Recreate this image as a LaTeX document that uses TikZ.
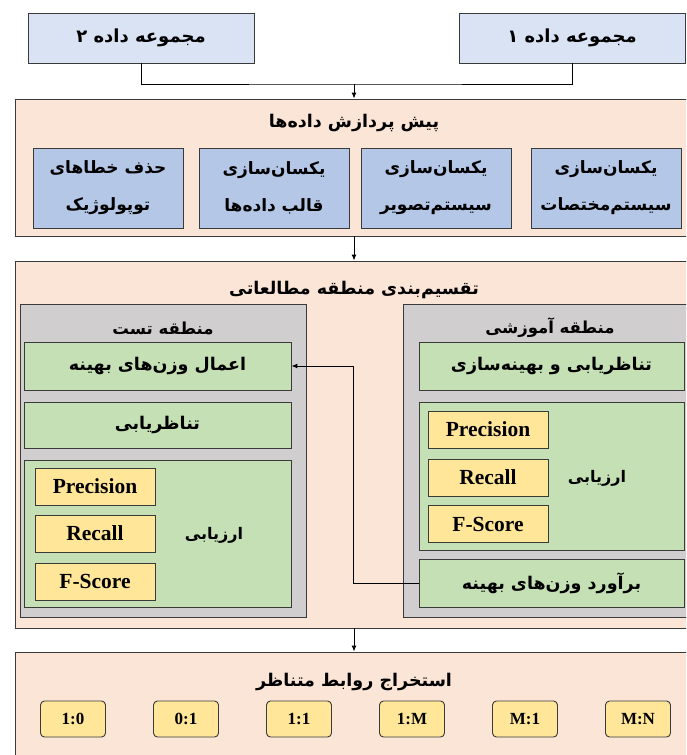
\documentclass[tikz,border=0pt]{standalone}
\usepackage{fontspec}
\setmainfont{Liberation Serif}
\newfontfamily\fafont[Script=Arabic]{DejaVu Sans}
\usetikzlibrary{arrows.meta}
\TeXXeTstate=1
\newcommand{\fa}[1]{\fafont\beginR #1\endR}

\definecolor{dsblue}{HTML}{DAE3F3}
\definecolor{peach}{HTML}{FBE5D6}
\definecolor{stepblue}{HTML}{B4C7E7}
\definecolor{zonegray}{HTML}{D0CECE}
\definecolor{taskgreen}{HTML}{C5E0B4}
\definecolor{metricyel}{HTML}{FFE699}
\definecolor{edgegray}{HTML}{3A3A3A}

\tikzset{
  box/.style={draw=edgegray, line width=0.9pt, inner sep=0pt, align=center},
  dsbox/.style={box, fill=dsblue, minimum width=226pt, minimum height=50pt,
    font=\fontsize{18}{21}\selectfont\bfseries},
  outer/.style={box, fill=peach, minimum width=678pt},
  stepbox/.style={box, fill=stepblue, minimum width=150pt, minimum height=80pt,
    font=\fontsize{17}{37}\selectfont\bfseries},
  zone/.style={box, fill=zonegray, minimum height=313pt},
  task/.style={box, fill=taskgreen, font=\fontsize{17.5}{20}\selectfont\bfseries},
  metric/.style={box, fill=metricyel, minimum width=120pt, minimum height=37pt,
    font=\fontsize{21.5}{24}\selectfont\bfseries},
  rel/.style={box, fill=metricyel, rounded corners=4pt, minimum width=65pt,
    minimum height=36pt, font=\fontsize{17}{20}\selectfont\bfseries},
  title/.style={inner sep=0pt, font=\fontsize{17.5}{20}\selectfont\bfseries},
  zonetitle/.style={inner sep=0pt, font=\fontsize{16.5}{19}\selectfont\bfseries},
  label/.style={inner sep=0pt, font=\fontsize{16}{19}\selectfont\bfseries},
  line/.style={draw=black, line width=1pt},
  arr/.style={line, -{Latex[length=6pt,width=5pt]}}
}

\begin{document}
\begin{tikzpicture}[x=1pt, y=-1pt]
  \useasboundingbox (0,0) rectangle (686,755);
  \clip (0,0) rectangle (686,755);
  \fill[white] (0,0) rectangle (686,755);

  % Data sets
  \node[dsbox] (ds2) at (141,38) {\fa{مجموعه داده ۲}};
  \node[dsbox] (ds1) at (572,38) {\fa{مجموعه داده ۱}};

  % Pre-processing
  \node[outer, minimum height=137pt] (pre) at (354,167.5) {};
  \node[title] (preT) at (354,123) {\fa{پیش پردازش داده^^^^200cها}};
  \node[stepbox] (s1) at (606,188) {\fa{یکسان^^^^200cسازی}\\\fa{سیستم^^^^200cمختصات}};
  \node[stepbox] (s2) at (436,188) {\fa{یکسان^^^^200cسازی}\\\fa{سیستم^^^^200cتصویر}};
  \node[stepbox] (s3) at (274,188) {\fa{یکسان^^^^200cسازی}\\\fa{قالب داده^^^^200cها}};
  \node[stepbox] (s4) at (108,188) {\fa{حذف خطاهای}\\\fa{توپولوژیک}};

  % Study area partition
  \node[outer, minimum height=367pt] (part) at (354,444.5) {};
  \node[title] (partT) at (354,290) {\fa{تقسیم^^^^200cبندی منطقه مطالعاتی}};

  % Test zone
  \node[zone, minimum width=286pt] (test) at (163,460.5) {};
  \node[zonetitle] (testT) at (163,328) {\fa{منطقه تست}};
  \node[task, minimum width=267pt, minimum height=48pt] (tL1) at (157.5,366) {\fa{اعمال وزن^^^^200cهای بهینه}};
  \node[task, minimum width=267pt, minimum height=46pt] (tL2) at (157.5,425) {\fa{تناظریابی}};
  \node[task, minimum width=267pt, minimum height=147pt] (tL3) at (157.5,533.5) {};
  \node[metric] (mL1) at (95,486.5) {Precision};
  \node[metric] (mL2) at (95,533.5) {Recall};
  \node[metric] (mL3) at (95,581.5) {F-Score};
  \node[label] (evL) at (214,535) {\fa{ارزیابی}};

  % Training zone
  \node[zone, minimum width=294pt] (train) at (550,460.5) {};
  \node[zonetitle] (trainT) at (550,328) {\fa{منطقه آموزشی}};
  \node[task, minimum width=265pt, minimum height=48pt] (tR1) at (551.5,366) {\fa{تناظریابی و بهینه^^^^200cسازی}};
  \node[task, minimum width=265pt, minimum height=148pt] (tR2) at (551.5,476) {};
  \node[metric] (mR1) at (488,429.5) {Precision};
  \node[metric] (mR2) at (488,477.5) {Recall};
  \node[metric] (mR3) at (488,524) {F-Score};
  \node[label] (evR) at (597,478) {\fa{ارزیابی}};
  \node[task, minimum width=265pt, minimum height=48pt] (tR3) at (551.5,583) {\fa{برآورد وزن^^^^200cهای بهینه}};

  % Corresponding relations
  \node[outer, minimum height=123pt] (relx) at (354,713.5) {};
  \node[title] (relT) at (354,682) {\fa{استخراج روابط متناظر}};
  \node[rel] (r1) at (73,719) {1:0};
  \node[rel] (r2) at (186,719) {0:1};
  \node[rel] (r3) at (299,719) {1:1};
  \node[rel] (r4) at (412,719) {1:M};
  \node[rel] (r5) at (525,719) {M:1};
  \node[rel] (r6) at (638,719) {M:N};

  % Connections
  \coordinate (join) at (354,84);
  \coordinate (mid) at (353,0);
  \draw[line] (ds2.south) |- (join) -| (ds1.south);
  \draw[arr] (join) -- (pre.north);
  \draw[arr] (pre.south) -- (part.north);
  \draw[arr] (tR3.west) -- (tR3.west -| mid) |- (tL1.east);
  \draw[arr] (part.south) -- (relx.north);
\end{tikzpicture}
\end{document}
